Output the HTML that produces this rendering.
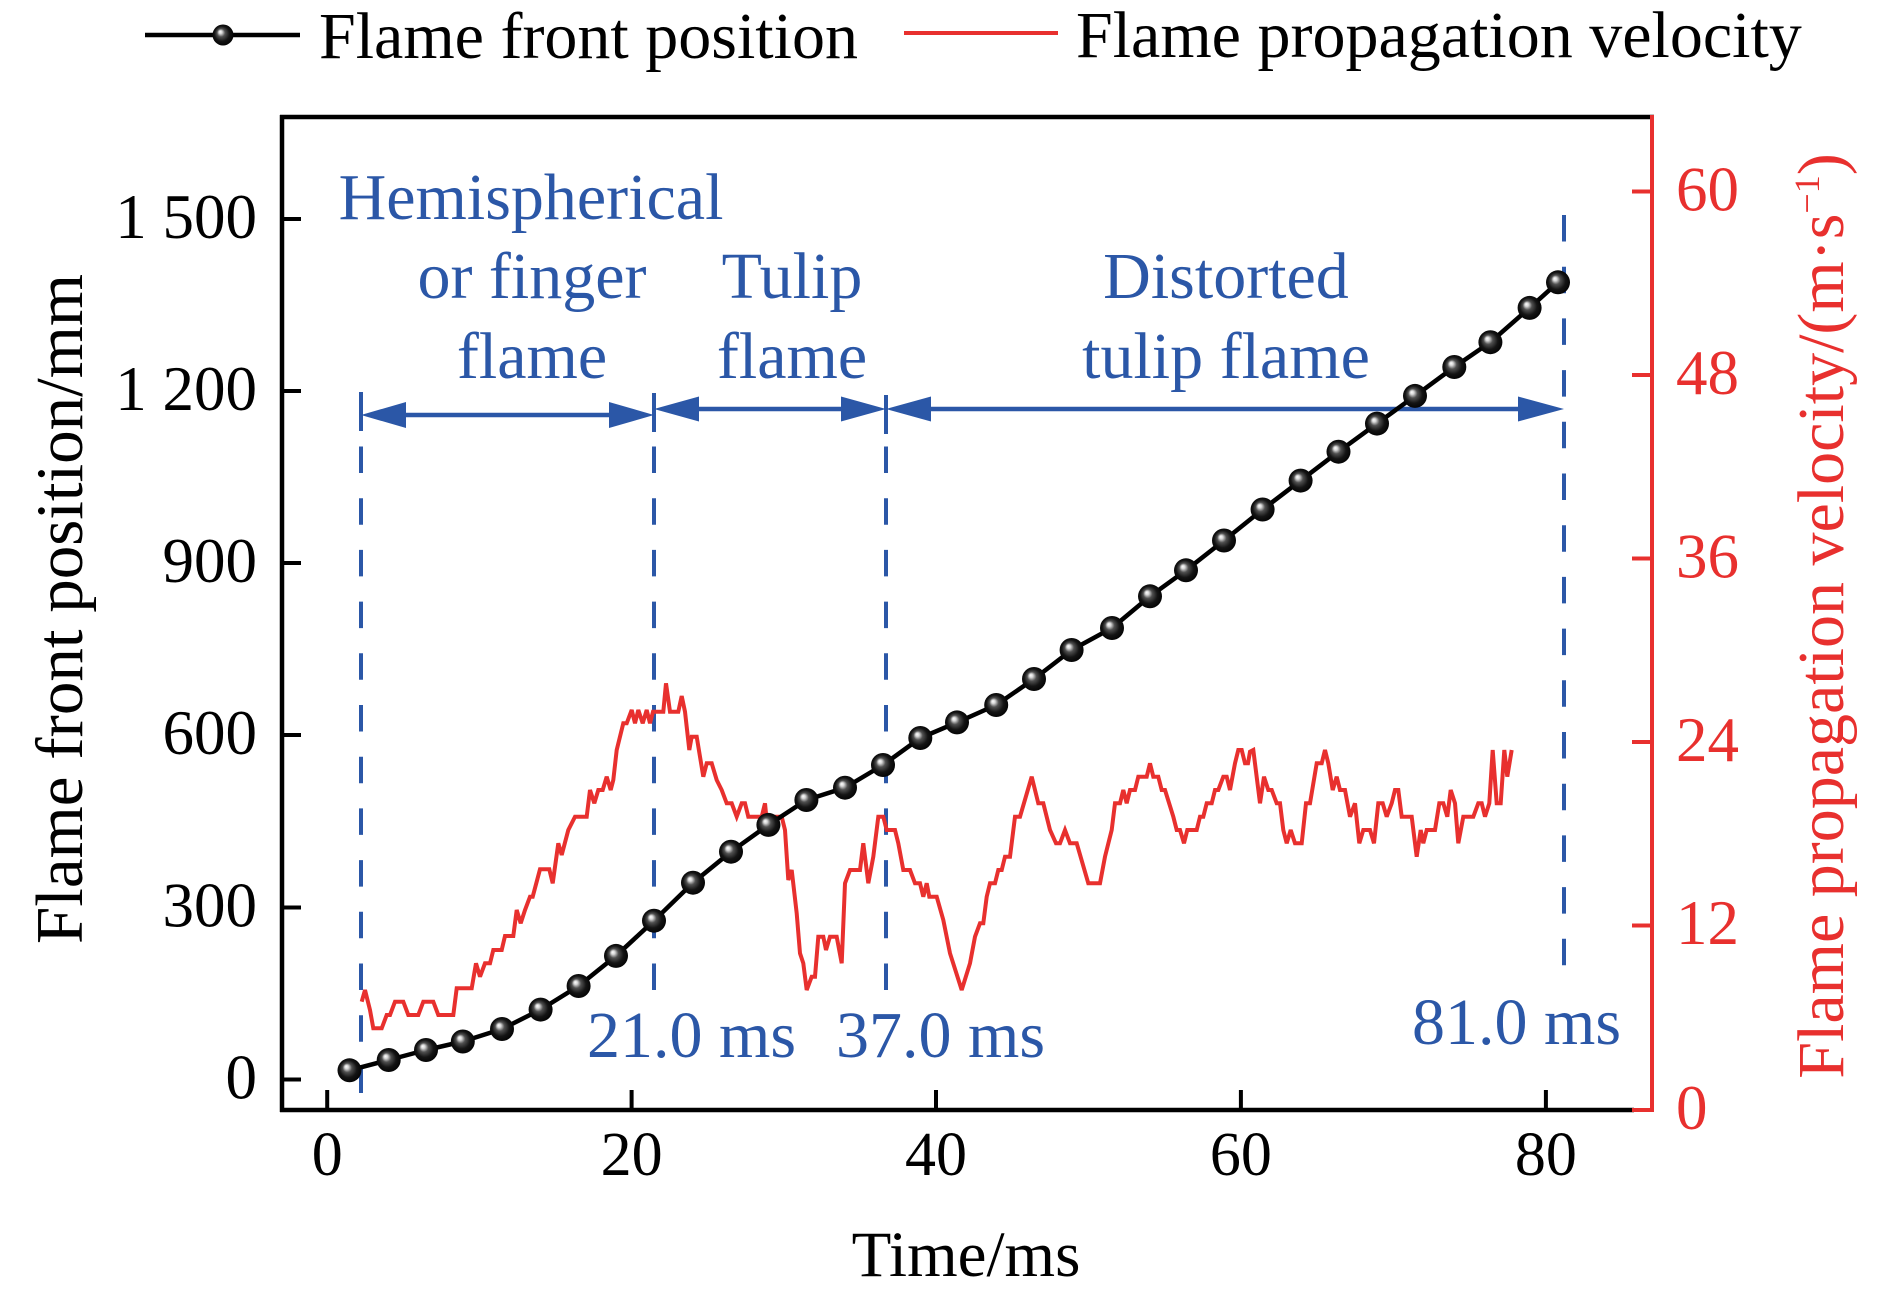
<!DOCTYPE html>
<html><head><meta charset="utf-8"><style>
html,body{margin:0;padding:0;background:#fff;}
svg{display:block;}
text{font-family:"Liberation Serif","Times New Roman",serif;}
</style></head><body>
<svg width="1890" height="1296" viewBox="0 0 1890 1296" xmlns="http://www.w3.org/2000/svg">
<defs>
<radialGradient id="ball" cx="0.5" cy="0.5" r="0.55" fx="0.36" fy="0.34">
<stop offset="0" stop-color="#ffffff"/>
<stop offset="0.14" stop-color="#d8d8d8"/>
<stop offset="0.35" stop-color="#505050"/>
<stop offset="0.65" stop-color="#141414"/>
<stop offset="1" stop-color="#000"/>
</radialGradient>
</defs>
<rect width="1890" height="1296" fill="#fff"/>

<!-- Legend -->
<line x1="145" y1="35" x2="300" y2="35" stroke="#000" stroke-width="4.5"/>
<circle cx="223" cy="35" r="10.5" fill="url(#ball)"/>
<text x="319" y="58" font-size="66" fill="#000">Flame front position</text>
<line x1="904" y1="33" x2="1058" y2="33" stroke="#e8302e" stroke-width="4"/>
<text x="1076" y="57" font-size="66" fill="#000">Flame propagation velocity</text>

<!-- Axes frame -->
<line x1="280" y1="117" x2="1654" y2="117" stroke="#000" stroke-width="4.5"/>
<line x1="282" y1="115" x2="282" y2="1112" stroke="#000" stroke-width="4.5"/>
<line x1="280" y1="1110" x2="1634" y2="1110" stroke="#000" stroke-width="4.5"/>
<line x1="1652" y1="115" x2="1652" y2="1112" stroke="#e8302e" stroke-width="4"/>

<!-- Left ticks -->
<g stroke="#000" stroke-width="4">
<line x1="282" y1="219" x2="301" y2="219"/>
<line x1="282" y1="391" x2="301" y2="391"/>
<line x1="282" y1="563" x2="301" y2="563"/>
<line x1="282" y1="735" x2="301" y2="735"/>
<line x1="282" y1="907.5" x2="301" y2="907.5"/>
<line x1="282" y1="1079.5" x2="301" y2="1079.5"/>
<line x1="327.2" y1="1110" x2="327.2" y2="1090"/>
<line x1="631.6" y1="1110" x2="631.6" y2="1090"/>
<line x1="936" y1="1110" x2="936" y2="1090"/>
<line x1="1240.9" y1="1110" x2="1240.9" y2="1090"/>
<line x1="1545.9" y1="1110" x2="1545.9" y2="1090"/>
</g>
<g font-size="63" fill="#000" text-anchor="end">
<text x="257" y="238">1 500</text>
<text x="257" y="410">1 200</text>
<text x="257" y="582">900</text>
<text x="257" y="754">600</text>
<text x="257" y="926.5">300</text>
<text x="257" y="1098.5">0</text>
</g>
<g font-size="62" fill="#000" text-anchor="middle">
<text x="327.2" y="1175">0</text>
<text x="631.6" y="1175">20</text>
<text x="936" y="1175">40</text>
<text x="1240.9" y="1175">60</text>
<text x="1545.9" y="1175">80</text>
</g>
<text x="966" y="1276" font-size="65" fill="#000" text-anchor="middle">Time/ms</text>
<text x="82" y="609" font-size="67" fill="#000" text-anchor="middle" transform="rotate(-90 82 609)">Flame front position/mm</text>

<!-- Right ticks -->
<g stroke="#e8302e" stroke-width="4">
<line x1="1632" y1="191.5" x2="1652" y2="191.5"/>
<line x1="1632" y1="375" x2="1652" y2="375"/>
<line x1="1632" y1="558.5" x2="1652" y2="558.5"/>
<line x1="1632" y1="742" x2="1652" y2="742"/>
<line x1="1632" y1="925.5" x2="1652" y2="925.5"/>
<line x1="1632" y1="1110" x2="1654" y2="1110"/>
</g>
<g font-size="63" fill="#e8302e">
<text x="1676" y="210.5">60</text>
<text x="1676" y="394">48</text>
<text x="1676" y="577.5">36</text>
<text x="1676" y="761">24</text>
<text x="1676" y="944">12</text>
<text x="1676" y="1129">0</text>
</g>
<text x="1843" y="616" font-size="66" fill="#e8302e" text-anchor="middle" transform="rotate(-90 1843 616)">Flame propagation velocity/(m·s<tspan font-size="36" dy="-24">−1</tspan><tspan dy="24">)</tspan></text>

<!-- Blue dashed phase lines -->
<g stroke="#2b57a7" stroke-width="4" fill="none">
<line x1="361" y1="392" x2="361" y2="431"/>
<line x1="654" y1="393" x2="654" y2="432"/>
<line x1="886" y1="395" x2="886" y2="434"/>
<line x1="361" y1="446.5" x2="361" y2="1093" stroke-dasharray="26.5 25.2"/>
<line x1="654" y1="446.5" x2="654" y2="991" stroke-dasharray="26.5 25.2"/>
<line x1="886" y1="446.5" x2="886" y2="991" stroke-dasharray="26.5 25.2"/>
<line x1="1564" y1="215" x2="1564" y2="967" stroke-dasharray="26.5 25.2"/>
<line x1="395" y1="415" x2="620" y2="415" stroke-width="4.5"/>
<line x1="688" y1="409" x2="852" y2="409" stroke-width="4.5"/>
<line x1="920" y1="409" x2="1530" y2="409" stroke-width="4.5"/>
</g>
<g fill="#2b57a7">
<polygon points="361,415 406,402 406,428"/>
<polygon points="654,415 609,402 609,428"/>
<polygon points="654,409 699,396.5 699,421.5"/>
<polygon points="886,409 841,396.5 841,421.5"/>
<polygon points="886,409 931,396.5 931,421.5"/>
<polygon points="1564,409 1518,396.5 1518,421.5"/>
</g>
<g font-size="66" fill="#2b57a7" text-anchor="middle">
<text x="531" y="219">Hemispherical</text>
<text x="532" y="298">or finger</text>
<text x="532" y="378">flame</text>
<text x="792" y="298">Tulip</text>
<text x="792" y="378">flame</text>
<text x="1226" y="298">Distorted</text>
<text x="1226" y="378">tulip flame</text>
</g>
<g font-size="66" fill="#2b57a7">
<text x="587" y="1057">21.0 ms</text>
<text x="836" y="1057">37.0 ms</text>
<text x="1412" y="1044">81.0 ms</text>
</g>

<!-- Red velocity series -->
<polyline fill="none" stroke="#e8302e" stroke-width="4" stroke-linejoin="miter" stroke-miterlimit="3" points="
361.7,1001.7 365,990 370,1010 373.3,1028.3 381.7,1028.3 386.7,1015 390,1015 395,1001.7 403.3,1001.7 408.3,1015 418.3,1015 423.3,1001.7 433.3,1001.7 438.3,1015 453.3,1015 456.7,988.3 471.7,988.3 476,963.3 480,976.7 485,963.3 490,963.3 493.3,950 501.7,950 505,936 513.3,936 516.7,910 520.7,923.3 525,910 530,896.7 532.7,896.7 540,869.3 549.3,869.3 552.7,883.3 558.3,843.3 561.7,855 568.3,830 575,816.7 586.7,816.7 590,790 594.3,803.3 598.3,790 602.7,790 606.7,776.7 610.7,790 613.3,780 616.7,750 623.3,723.3 626.7,723.3 631.7,710 635,723.3 638.3,710 642.7,723.3 646.7,710 650,723.3
653,711.7 663.3,711.7 666,683.3 670,711.7 678.3,711.7 681.7,696 685,711.7 689.3,750 691.7,736.7 696.7,736.7 703.3,776.7 706.7,763.3 711.7,763.3 716.7,780 721.7,790 726.7,803.3 731.7,803.3 736.7,816.7 741.7,803.3 745,803.3 748.3,816.7 761.7,816.7 765,803.3 767.3,826.7 770,816.7 781.7,816.7 785,830 788.3,880 791.7,870 796.7,913.3 800,953.3 803.3,963.3 806.7,990 811.7,976.7 815,976.7 818.3,936.7 823.3,936.7 826,950 830,936.7 836.7,936.7 841.7,963.3 845,883.3 850,870 860,870 863.3,843.3 868.3,883.3 873.3,856.7 878.3,816.7 883.3,816.7 886.7,830 895,830 898.3,843.3 903.3,870 910,870 915,883.3 920,883.3 923.3,896.7 926.7,883.3 929.3,896.7 936.7,896.7 943.3,920 950,953.3
961.7,990 970,963.3 975,936.7 980,923.3 983.3,923.3 986.7,896.7 990,883.3 995,883.3 998.3,870 1001.7,870 1005,856.7 1010,856.7 1015,816.7 1020,816.7 1031.7,776.7 1038.3,803.3 1043.3,803.3 1050,830 1056,843.3 1060,843.3 1065,830 1070,843.3 1076.7,843.3 1088.3,883.3 1100,883.3 1105,856.7 1111.7,830 1115,803.3 1120,803.3 1123.3,790 1126.7,803.3 1130,790 1135,790 1138.3,776.7 1146.7,776.7 1150,763.3 1153.3,776.7 1158.3,776.7 1161.7,790 1165,790 1173.3,816.7 1176.7,830 1180,830 1184,843.3 1187.3,830 1196.7,830 1200,816.7 1203.3,816.7 1206.7,803.3 1211.7,803.3 1215,790 1218.3,790 1223.3,776.7 1226.7,776.7 1230,790 1235,763.3 1238.3,750 1241.7,750 1245,763.3 1248,763.3 1250,751.7
1253.3,750 1260,803.3 1264,776.7 1268.3,790 1271.7,790 1276.7,803.3 1280,803.3 1283.3,830 1286.7,843.3 1290.7,830 1295,843.3 1301.7,843.3 1306,803.3 1310,803.3 1316.7,763.3 1321.7,763.3 1325,750 1328.3,763.3 1332.7,790 1336.7,776.7 1340,790 1345,790 1350,816.7 1355,803.3 1359.3,843.3 1363.3,830 1370,830 1374,843.3 1378.3,803.3 1382.7,803.3 1386.7,816.7 1391.7,803.3 1395,790 1398.3,790 1401.7,816.7 1411.7,816.7 1416.7,856.7 1420.7,830 1423.3,843.3 1426.7,830 1435,830 1439.3,803.3 1443.3,803.3 1447.3,816.7 1450.7,790 1455,803.3 1458.3,843.3 1463.3,816.7 1473.3,816.7 1478.3,803.3 1481.7,803.3 1485,816.7 1489.3,803.3 1492.7,750 1496.7,803.3 1500.7,803.3 1504.3,750 1507.3,776.7 1511.7,750"/>

<!-- Black position series -->
<polyline fill="none" stroke="#000" stroke-width="4.5" stroke-linejoin="round" points="349.5,1070.3 388.7,1060 426,1050 462.8,1041.5 502,1029 540.6,1009.6 578.6,986 616,955.9 654,920.7 693,882.7 731,851.7 768.4,824.9 806.4,800 845,787.7 883,765 920.3,738 957,722.4 996.2,705 1034,679 1071.6,650 1112,628 1150,596.3 1186,570.3 1224,540.5 1262.6,509.5 1300.6,480.6 1338.5,451.7 1377,423.6 1415,395.9 1454.3,367 1490.4,342.2 1529.6,307.9 1558,282.3"/>
<g fill="url(#ball)">
<circle cx="349.5" cy="1070.3" r="12"/><circle cx="388.7" cy="1060" r="12"/><circle cx="426" cy="1050" r="12"/><circle cx="462.8" cy="1041.5" r="12"/><circle cx="502" cy="1029" r="12"/><circle cx="540.6" cy="1009.6" r="12"/><circle cx="578.6" cy="986" r="12"/><circle cx="616" cy="955.9" r="12"/><circle cx="654" cy="920.7" r="12"/><circle cx="693" cy="882.7" r="12"/><circle cx="731" cy="851.7" r="12"/><circle cx="768.4" cy="824.9" r="12"/><circle cx="806.4" cy="800" r="12"/><circle cx="845" cy="787.7" r="12"/><circle cx="883" cy="765" r="12"/><circle cx="920.3" cy="738" r="12"/><circle cx="957" cy="722.4" r="12"/><circle cx="996.2" cy="705" r="12"/><circle cx="1034" cy="679" r="12"/><circle cx="1071.6" cy="650" r="12"/><circle cx="1112" cy="628" r="12"/><circle cx="1150" cy="596.3" r="12"/><circle cx="1186" cy="570.3" r="12"/><circle cx="1224" cy="540.5" r="12"/><circle cx="1262.6" cy="509.5" r="12"/><circle cx="1300.6" cy="480.6" r="12"/><circle cx="1338.5" cy="451.7" r="12"/><circle cx="1377" cy="423.6" r="12"/><circle cx="1415" cy="395.9" r="12"/><circle cx="1454.3" cy="367" r="12"/><circle cx="1490.4" cy="342.2" r="12"/><circle cx="1529.6" cy="307.9" r="12"/><circle cx="1558" cy="282.3" r="12"/>
</g>
</svg>
</body></html>
